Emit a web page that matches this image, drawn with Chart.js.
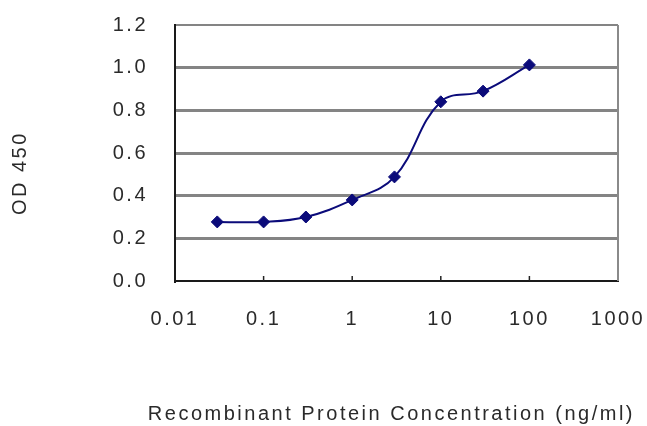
<!DOCTYPE html>
<html>
<head>
<meta charset="utf-8">
<script src="https://cdn.jsdelivr.net/npm/chart.js@4/dist/chart.umd.min.js"></script>
<style>
  html, body { margin: 0; padding: 0; background: #fff; }
  canvas { display: block; }
</style>
</head>
<body>
<canvas id="chart" width="647" height="426"></canvas>
<script>
// concentration (ng/ml) and OD 450 readings
const concentrations = [0.03, 0.1, 0.3, 1, 3, 10, 30, 100];
const odValues = [0.277, 0.277, 0.30, 0.38, 0.488, 0.84, 0.89, 1.013];
const xTickValues = [0.01, 0.1, 1, 10, 100, 1000];
const xTickLabels = ["0.01", "0.1", "1", "10", "100", "1000"];
const yTickValues = [0, 0.2, 0.4, 0.6, 0.8, 1.0, 1.2];

const textColor = "#2a2a2a";
const lineColor = "#0b0b7a";

// the old picture has wide, loosely spaced text
const spacingPlugin = {
    id: "spacing",
    beforeLayout(chart) { chart.ctx.letterSpacing = "2.5px"; },
    beforeDraw(chart) { chart.ctx.letterSpacing = "2.5px"; }
};

// right border + little inward ticks on the x axis
const framePlugin = {
    id: "frame",
    afterDatasetsDraw(chart) {
        const ctx = chart.ctx;
        const area = chart.chartArea;
        const xs = chart.scales.x;
        ctx.save();
        ctx.strokeStyle = "#8a8a8a";
        ctx.lineWidth = 2;
        ctx.beginPath();
        ctx.moveTo(area.right, area.top);
        ctx.lineTo(area.right, area.bottom);
        ctx.stroke();
        ctx.strokeStyle = "#222";
        ctx.lineWidth = 1.5;
        xTickValues.slice(1, -1).forEach(v => {
            const px = xs.getPixelForValue(v);
            ctx.beginPath();
            ctx.moveTo(px, area.bottom);
            ctx.lineTo(px, area.bottom - 5);
            ctx.stroke();
        });
        ctx.restore();
    }
};

const points = concentrations.map((c, i) => ({ x: c, y: odValues[i] }));

new Chart(document.getElementById("chart").getContext("2d"), {
    type: "line",
    data: {
        datasets: [{
            data: points,
            borderColor: lineColor,
            backgroundColor: lineColor,
            borderWidth: 2,
            tension: 0.4,
            pointStyle: "rectRot",
            pointRadius: 6,
            pointBorderWidth: 1
        }]
    },
    options: {
        responsive: false,
        animation: false,
        layout: { padding: { top: 25, right: 12, bottom: 0, left: 0 } },
        plugins: {
            legend: { display: false },
            tooltip: { enabled: false },
            // x axis title: the scale title is clipped to the plot width, so use the chart title
            title: {
                display: true,
                position: "bottom",
                align: "end",
                text: "Recombinant Protein Concentration (ng/ml)",
                color: textColor,
                font: { family: "Liberation Sans, Arial", size: 20, weight: "normal" },
                padding: { top: 0, bottom: 0 }
            }
        },
        scales: {
            x: {
                type: "logarithmic",
                min: 0.01,
                max: 1000,
                afterBuildTicks(scale) {
                    scale.ticks = xTickValues.map(v => ({ value: v }));
                },
                afterFit(scale) {
                    scale.height = 121;
                    scale.paddingLeft = 0;
                    scale.paddingRight = 29;
                },
                grid: { display: false, drawTicks: false },
                border: { color: "#1a1a1a", width: 2 },
                ticks: {
                    autoSkip: false,
                    maxRotation: 0,
                    padding: 26,
                    color: textColor,
                    font: { family: "Liberation Sans, Arial", size: 20 },
                    callback: (v) => {
                        const i = xTickValues.indexOf(v);
                        return i >= 0 ? xTickLabels[i] : "";
                    }
                }
            },
            y: {
                min: 0,
                max: 1.2,
                afterBuildTicks(scale) {
                    scale.ticks = yTickValues.map(v => ({ value: v }));
                },
                afterFit(scale) {
                    scale.width = 175;
                    scale.paddingTop = 0;
                    scale.paddingBottom = 0;
                },
                grid: {
                    drawTicks: false,
                    color: (c) => c.tick && c.tick.value === 0 ? "rgba(0,0,0,0)" : "#848484",
                    lineWidth: (c) => c.tick && c.tick.value >= 1.19 ? 2 : 3
                },
                border: { color: "#1a1a1a", width: 2 },
                ticks: {
                    padding: 27,
                    color: textColor,
                    font: { family: "Liberation Sans, Arial", size: 20 },
                    callback: (v) => Number(v).toFixed(1)
                },
                title: {
                    display: true,
                    text: "OD 450     ",
                    color: textColor,
                    font: { family: "Liberation Sans, Arial", size: 20 },
                    padding: { top: 8, bottom: 0 }
                }
            }
        }
    },
    plugins: [spacingPlugin, framePlugin]
});
</script>
</body>
</html>
